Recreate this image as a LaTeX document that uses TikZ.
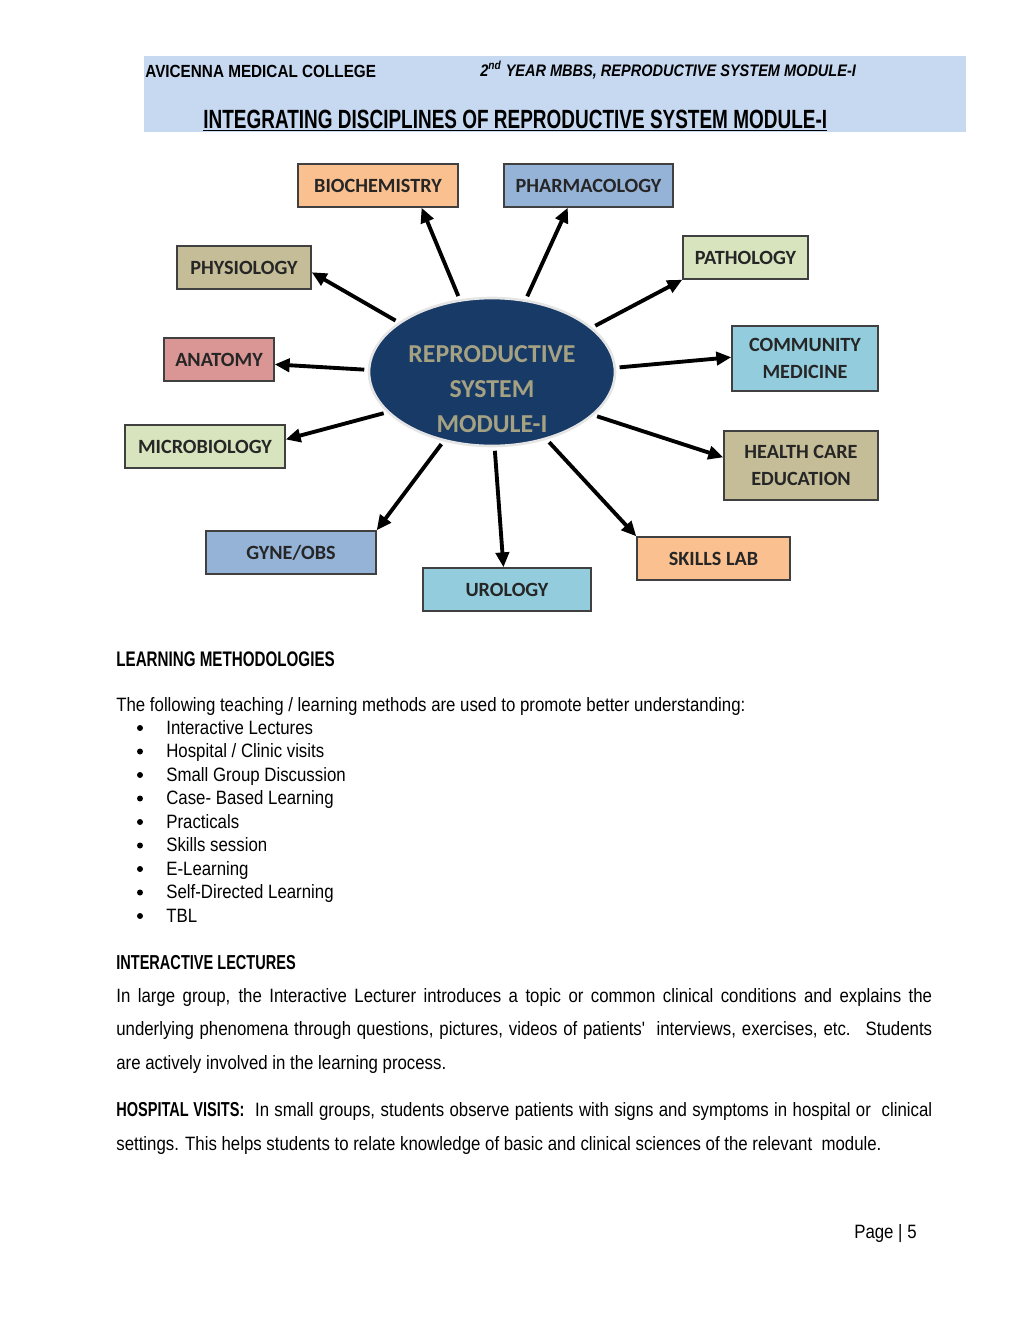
\documentclass[tikz,border=0pt]{standalone}
\usepackage{fontspec}
\setmainfont{Liberation Sans}
\newfontfamily\narrowsans[FakeStretch=0.87]{Liberation Sans}
\newfontfamily\titlesans[FakeStretch=0.72]{Liberation Sans}
\newfontfamily\boxfont{Carlito}
\usetikzlibrary{arrows.meta,positioning,shapes.geometric}

\definecolor{peach}{HTML}{FAC090}
\definecolor{steel}{HTML}{95B3D7}
\definecolor{khaki}{HTML}{C4BD97}
\definecolor{leaf}{HTML}{D7E4BD}
\definecolor{rose}{HTML}{D99694}
\definecolor{aqua}{HTML}{93CDDD}
\definecolor{navy}{HTML}{183A66}
\definecolor{hubtextcol}{HTML}{A5A283}
\definecolor{band}{HTML}{C6D9F1}

\tikzset{
  discbox/.style={draw=black!75, line width=0.8pt, text=black!85, align=center,
    inner sep=0pt, font=\boxfont\bfseries\fontsize{11.5}{15.3}\selectfont},
  spoke/.style={line width=2.2pt, -{Triangle[length=8.5pt,width=7.5pt]}, shorten <=2pt},
  bodytext/.style={anchor=base west, inner sep=0pt, font=\narrowsans\fontsize{11}{13}\selectfont},
  headtext/.style={anchor=base west, inner sep=0pt, font=\narrowsans\bfseries\fontsize{11}{13}\selectfont},
  bulletdot/.style={circle, fill=black, inner sep=0pt, minimum size=0.12cm},
}

\begin{document}
\begin{tikzpicture}[x=0.02cm, y=-0.02cm]
    \useasboundingbox[fill=white] (0,0) rectangle (1024,1325);

    % Header band
    \fill[band] (144,56) rectangle (966,132);
    \node[headtext, font=\narrowsans\bfseries\fontsize{10}{12}\selectfont] (college) at (145,77) {AVICENNA MEDICAL COLLEGE};
    \node[headtext, font=\narrowsans\bfseries\itshape\fontsize{9.5}{12}\selectfont] (module) at (480,76) {2\textsuperscript{nd} YEAR MBBS, REPRODUCTIVE SYSTEM MODULE-I};
    \node[headtext, font=\titlesans\bfseries\fontsize{15}{18}\selectfont] (title) at (203,128) {\underline{INTEGRATING DISCIPLINES OF REPRODUCTIVE SYSTEM MODULE-I}};

    % Central ellipse
    \node[ellipse, fill=navy, draw=white!80!gray, line width=1.5pt, minimum width=4.92cm, minimum height=2.96cm, inner sep=0pt] (hub) at (492,372) {};
    \node[text=hubtextcol, align=center, font=\boxfont\bfseries\fontsize{14.7}{19.8}\selectfont] (hublabel) at (492,389) {REPRODUCTIVE\\SYSTEM\\MODULE-I};

    % Discipline boxes
    \node[discbox, fill=peach, minimum width=3.2cm, minimum height=0.86cm] (bio) at (378,185.5) {BIOCHEMISTRY};
    \node[discbox, fill=steel, minimum width=3.38cm, minimum height=0.86cm] (pharm) at (588.5,185.5) {PHARMACOLOGY};
    \node[discbox, fill=khaki, minimum width=2.68cm, minimum height=0.86cm] (physio) at (244,267.5) {PHYSIOLOGY};
    \node[discbox, fill=leaf, minimum width=2.5cm, minimum height=0.86cm] (patho) at (745.5,257.5) {PATHOLOGY};
    \node[discbox, fill=rose, minimum width=2.2cm, minimum height=0.86cm] (anat) at (219,359.5) {ANATOMY};
    \node[discbox, fill=aqua, minimum width=2.92cm, minimum height=1.3cm] (comm) at (805,358.5) {COMMUNITY\\MEDICINE};
    \node[discbox, fill=leaf, minimum width=3.2cm, minimum height=0.86cm] (micro) at (205,446.5) {MICROBIOLOGY};
    \node[discbox, fill=khaki, minimum width=3.08cm, minimum height=1.38cm] (health) at (801,465.5) {HEALTH CARE\\EDUCATION};
    \node[discbox, fill=steel, minimum width=3.4cm, minimum height=0.86cm] (gyne) at (291,552.5) {GYNE/OBS};
    \node[discbox, fill=aqua, minimum width=3.36cm, minimum height=0.86cm] (uro) at (507,589.5) {UROLOGY};
    \node[discbox, fill=peach, minimum width=3.06cm, minimum height=0.86cm] (skills) at (713.5,558.5) {SKILLS LAB};

    % Spokes
    \draw[spoke] (hub.114) -- (bio.-27);
    \draw[spoke] (hub.65) -- (pharm.-133);
    \draw[spoke] (hub.152) -- (physio.-4);
    \draw[spoke] (hub.24.5) -- (patho.south west);
    \draw[spoke] (hub.179.5) -- (anat.-5);
    \draw[spoke] (hub.2) -- (comm.179);
    \draw[spoke] (hub.201) -- (micro.5);
    \draw[spoke] (hub.-23) -- (health.174);
    \draw[spoke] (hub.235) -- (gyne.north east);
    \draw[spoke] (hub.272.5) -- (uro.99);
    \draw[spoke] (hub.309.5) -- (skills.north west);

    % Learning methodologies
    \node[headtext, font=\titlesans\bfseries\fontsize{12}{14}\selectfont] (lmhead) at (116,666) {LEARNING METHODOLOGIES};
    \node[bodytext] (intro) at (116,711) {The following teaching / learning methods are used to promote better understanding:};
    \foreach \txt [count=\i] in {Interactive Lectures, Hospital / Clinic visits, Small Group Discussion,
        Case- Based Learning, Practicals, Skills session, E-Learning, Self-Directed Learning, TBL} {
      \node[bulletdot] (dot\i) at (140,{728+23.5*(\i-1)}) {};
      \node[bodytext] (item\i) at (166,{734+23.5*(\i-1)}) {\txt};
    }

    % Interactive lectures
    \node[headtext, font=\titlesans\bfseries\fontsize{11.5}{13}\selectfont] (ilhead) at (116,969) {INTERACTIVE LECTURES};
    \node[bodytext] (il1) at (116,1002) {\hbox to 16.32cm{In large group, the Interactive Lecturer introduces a topic or common clinical conditions and explains the}};
    \node[bodytext] (il2) at (116,1035) {\hbox to 16.32cm{underlying phenomena through questions, pictures, videos of patients' \ interviews, exercises, etc. \ Students}};
    \node[bodytext] (il3) at (116,1069) {are actively involved in the learning process.};

    % Hospital visits
    \node[bodytext] (hv1) at (116,1116) {\hbox to 16.32cm{{\titlesans\bfseries\fontsize{11.5}{13}\selectfont HOSPITAL VISITS:}\ \ In small groups, students observe patients with signs and symptoms in hospital or \ clinical}};
    \node[bodytext] (hv2) at (116,1150) {settings. This helps students to relate knowledge of basic and clinical sciences of the relevant \ module.};

    % Page number
    \node[bodytext, anchor=base east] (page) at (917,1238) {Page | 5};
\end{tikzpicture}
\end{document}
